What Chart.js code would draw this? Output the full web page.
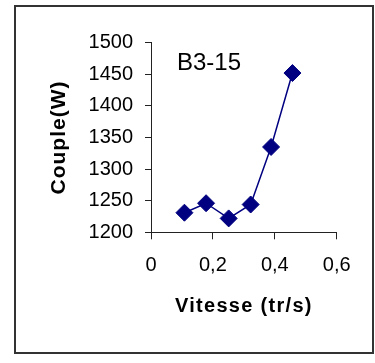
<!DOCTYPE html>
<html>
<head>
<meta charset="utf-8">
<script src="https://cdn.jsdelivr.net/npm/chart.js@4/dist/chart.umd.min.js"></script>
<style>
  html, body { margin: 0; padding: 0; background: #fff; width: 375px; height: 363px; overflow: hidden; }
  #frame { position: absolute; left: 14px; top: 5px; width: 360px; height: 349px; box-sizing: border-box; border: 2px solid #333; }
  #c { position: absolute; left: 0; top: 0; }
</style>
</head>
<body>
<div id="frame"></div>
<canvas id="c" width="375" height="363"></canvas>
<script>
// ---- data ----
const speeds = [0.108, 0.178, 0.251, 0.322, 0.388, 0.457];   // Vitesse (tr/s)
const torques = [1231, 1246, 1222, 1244, 1335, 1452];        // Couple(W)
const xTickLabels = ['0', '0,2', '0,4', '0,6'];
const yTickLabels = ['1200', '1250', '1300', '1350', '1400', '1450', '1500'];
const xTitle = 'Vitesse (tr/s)';
const yTitle = 'Couple(W)';
const seriesLabel = 'B3-15';
const seriesLabelAt = [0.084, 1457];

const FONT = "'Liberation Sans', Arial, sans-serif";
const NAVY = '#000080';

const points = speeds.map((s, i) => ({ x: s, y: torques[i] }));

const labelPlugin = {
  id: 'seriesLabel',
  beforeDraw(chart) {
    // add letter spacing to axis titles (as in the reference rendering)
    const spacing = { x: '1.3px', y: '1px' };
    for (const id of ['x', 'y']) {
      const sc = chart.scales[id];
      if (sc && !sc._spacedTitle) {
        const orig = sc.drawTitle;
        sc.drawTitle = function () {
          const ctx = this.ctx;
          ctx.save();
          if ('letterSpacing' in ctx) ctx.letterSpacing = spacing[id];
          orig.call(this);
          ctx.restore();
        };
        sc._spacedTitle = true;
      }
    }
  },
  afterDatasetsDraw(chart) {
    const { ctx, scales } = chart;
    ctx.save();
    ctx.font = '24px ' + FONT;
    ctx.fillStyle = '#000';
    ctx.textAlign = 'left';
    ctx.textBaseline = 'alphabetic';
    ctx.fillText(seriesLabel, scales.x.getPixelForValue(seriesLabelAt[0]), scales.y.getPixelForValue(seriesLabelAt[1]));
    ctx.restore();
  }
};

new Chart(document.getElementById('c'), {
  type: 'scatter',
  data: {
    datasets: [{
      label: seriesLabel,
      data: points,
      showLine: true,
      borderColor: NAVY,
      borderWidth: 1.5,
      backgroundColor: NAVY,
      pointStyle: 'rectRot',
      pointRadius: 8.5,
      pointHoverRadius: 8.5,
      pointBorderWidth: 1,
      pointBorderColor: NAVY,
      pointBackgroundColor: NAVY,
      clip: false
    }]
  },
  options: {
    responsive: false,
    animation: false,
    events: [],
    layout: { padding: { left: 40, right: 38.3, top: 42.7, bottom: 40 } },
    plugins: {
      legend: { display: false },
      tooltip: { enabled: false },
      title: { display: false }
    },
    scales: {
      x: {
        type: 'linear',
        min: 0, max: 0.6,
        afterFit(scale) { scale.height = 90.7; },
        ticks: {
          stepSize: 0.2,
          padding: 14,
          color: '#000',
          font: { family: FONT, size: 20 },
          maxRotation: 0,
          callback: (v, i) => xTickLabels[i]
        },
        grid: { display: true, drawOnChartArea: false, drawTicks: true, tickLength: 7, color: '#222', lineWidth: 1 },
        border: { display: true, color: '#222', width: 1 },
        title: {
          display: true,
          text: xTitle,
          color: '#000',
          font: { family: FONT, size: 20, weight: 'bold' },
          padding: { top: 0, bottom: 4.6 }
        }
      },
      y: {
        type: 'linear',
        min: 1200, max: 1500,
        afterFit(scale) { scale.width = 111; },
        ticks: {
          stepSize: 50,
          padding: 12,
          color: '#000',
          font: { family: FONT, size: 20 },
          callback: (v, i) => yTickLabels[i]
        },
        grid: { display: true, drawOnChartArea: false, drawTicks: true, tickLength: 6, color: '#222', lineWidth: 1 },
        border: { display: true, color: '#222', width: 1 },
        title: {
          display: true,
          text: yTitle,
          color: '#000',
          font: { family: FONT, size: 21, weight: 'bold' },
          padding: { top: 6.8, bottom: 0 }
        }
      }
    }
  },
  plugins: [labelPlugin]
});
</script>
</body>
</html>
